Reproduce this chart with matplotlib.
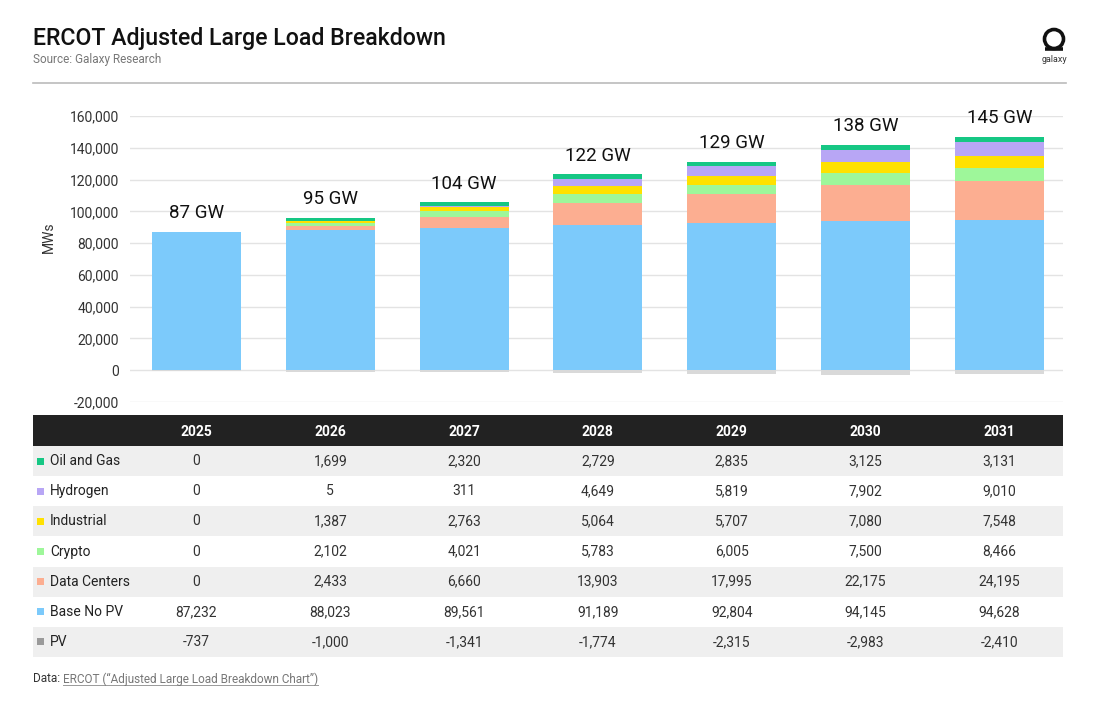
import matplotlib
matplotlib.use("Agg")
import matplotlib.pyplot as plt
import matplotlib.patches as mpatches
import matplotlib.transforms as mtransforms
import numpy as np

plt.rcParams['font.family'] = ['Roboto', 'DejaVu Sans']

years = ["2025", "2026", "2027", "2028", "2029", "2030", "2031"]
oil_gas = [0, 1699, 2320, 2729, 2835, 3125, 3131]
hydrogen = [0, 5, 311, 4649, 5819, 7902, 9010]
industrial = [0, 1387, 2763, 5064, 5707, 7080, 7548]
crypto = [0, 2102, 4021, 5783, 6005, 7500, 8466]
data_centers = [0, 2433, 6660, 13903, 17995, 22175, 24195]
base_no_pv = [87232, 88023, 89561, 91189, 92804, 94145, 94628]
pv = [-737, -1000, -1341, -1774, -2315, -2983, -2410]
total_labels = ["87 GW", "95 GW", "104 GW", "122 GW", "129 GW", "138 GW", "145 GW"]
yticks = [-20000, 0, 20000, 40000, 60000, 80000, 100000, 120000, 140000, 160000]

series = [
    ("Oil and Gas", oil_gas, "#16c784", "#16c784"),
    ("Hydrogen", hydrogen, "#b8a6f5", "#b8a6f5"),
    ("Industrial", industrial, "#ffe100", "#ffe100"),
    ("Crypto", crypto, "#9ef79a", "#9ef79a"),
    ("Data Centers", data_centers, "#fcae91", "#fcae91"),
    ("Base No PV", base_no_pv, "#7ccafb", "#7ccafb"),
    ("PV", pv, "#d9d9d9", "#9a9a9a"),
]

W, H = 1100, 703
fig = plt.figure(figsize=(W / 100, H / 100), dpi=100)
fig.patch.set_facecolor("white")

# overlay in pixel coords
over = fig.add_axes([0, 0, 1, 1], zorder=0)
over.set_xlim(0, W)
over.set_ylim(H, 0)
over.axis("off")

# main chart axes
left_px, right_px, top_px, bot_px = 130, 1063, 116, 402
ax = fig.add_axes([left_px / W, (H - bot_px) / H, (right_px - left_px) / W, (bot_px - top_px) / H], zorder=1)
ax.patch.set_alpha(0)
x = np.arange(len(years))
ax.set_xlim(-0.497, 6.476)
ax.set_ylim(-20000, 160000)
for s in ax.spines.values():
    s.set_visible(False)
ax.set_yticks(yticks)
ax.set_yticklabels([f"{v:,}" for v in yticks], fontsize=10, color="#333333")
ax.tick_params(axis="y", length=0, pad=8)
ax.set_xticks([])
ax.yaxis.grid(True, color="#e3e3e3", linewidth=1.0)
ax.set_axisbelow(True)
ax.set_ylabel("MWs", fontsize=10, color="#333333")
ax.yaxis.set_label_coords((56 - left_px) / (right_px - left_px), (bot_px - 237) / (bot_px - top_px))

bw = 0.665
bottom = np.zeros(len(years))
stack_order = ["Base No PV", "Data Centers", "Crypto", "Industrial", "Hydrogen", "Oil and Gas"]
sd = {n: (v, c) for n, v, c, _ in series}
for name in stack_order:
    vals, col = sd[name]
    vals = np.array(vals, dtype=float)
    ax.bar(x, vals, bw, bottom=bottom, color=col, linewidth=0)
    bottom += vals
ax.bar(x, pv, bw, color=sd["PV"][1], linewidth=0)

for xi, top, lab in zip(x, bottom, total_labels):
    ax.annotate(lab, (xi, top), xytext=(0, 13.5), textcoords="offset points",
                ha="center", va="center", fontsize=13.5, color="#111111", annotation_clip=False)

# header texts
over.text(33, 38, "ERCOT Adjusted Large Load Breakdown", fontsize=16.7, fontweight="medium",
          color="#111111", va="center", ha="left")
over.text(33, 60, "Source: Galaxy Research", fontsize=8.5, color="#777777", va="center", ha="left")
over.plot([33, 1066], [83, 83], color="#bbbbbb", linewidth=1.2)

# logo
over.add_patch(mpatches.Circle((1054, 39), 9.5, facecolor="none", edgecolor="#111111", linewidth=2.6))
over.plot([1045, 1063], [48.5, 48.5], color="#111111", linewidth=2.6, solid_capstyle="butt")
over.text(1054, 60, "galaxy", fontsize=6.5, color="#333333", ha="center", va="center")

# table
bt = mtransforms.blended_transform_factory(ax.transData, over.transData)
tl, tr = 33, 1063
hdr_top, hdr_bot = 415, 446
row_h = 30.15
over.add_patch(mpatches.Rectangle((tl, hdr_top), tr - tl, hdr_bot - hdr_top, facecolor="#222222", edgecolor="none"))
for xi, yr in zip(x, years):
    over.text(xi, (hdr_top + hdr_bot) / 2 + 1, yr, transform=bt, ha="center", va="center",
              fontsize=10, fontweight="bold", color="white")
for i, (name, vals, _, lcol) in enumerate(series):
    y0 = hdr_bot + i * row_h
    yc = y0 + row_h / 2
    if i % 2 == 0:
        over.add_patch(mpatches.Rectangle((tl, y0), tr - tl, row_h, facecolor="#efefef", edgecolor="none"))
    over.add_patch(mpatches.Rectangle((37, yc - 3.5), 7, 7, facecolor=lcol, edgecolor="none"))
    over.text(50, yc, name, fontsize=10, color="#222222", ha="left", va="center")
    for xi, v in zip(x, vals):
        over.text(xi, yc, f"{v:,}", transform=bt, ha="center", va="center", fontsize=10, color="#333333")

# footer
t1 = over.text(33, 679, "Data: ", fontsize=8.5, color="#333333", ha="left", va="center")
fig.canvas.draw()
bb = t1.get_window_extent()
x2 = bb.x1
t2 = fig.text(x2 / W, (H - 679) / H, "ERCOT (\u201cAdjusted Large Load Breakdown Chart\u201d)",
              fontsize=8.5, color="#777777", ha="left", va="center")
fig.canvas.draw()
bb2 = t2.get_window_extent()
over.plot([bb2.x0, bb2.x1], [685, 685], color="#999999", linewidth=0.7)

fig.savefig("out.png", dpi=100)
